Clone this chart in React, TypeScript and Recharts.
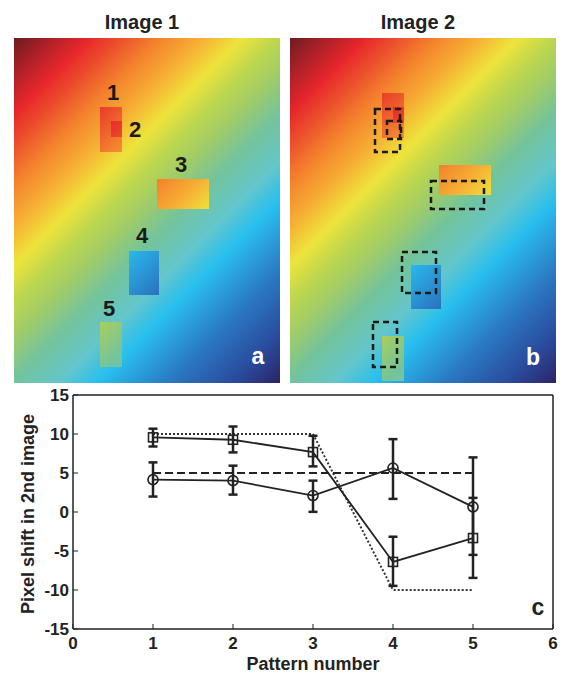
import React from 'react';
import { ComposedChart, Line, XAxis, YAxis, ErrorBar, ReferenceArea, ReferenceDot, Label } from 'recharts';

// ---- panel c: measured pixel shifts ----
const patterns = [1, 2, 3, 4, 5];
const squareShift = [9.57, 9.26, 7.68, -6.4, -3.34];
const squareErr = [[1.17, 1.11], [1.62, 1.7], [1.83, 2.09], [3.07, 3.23], [5.11, 5.15]];
const circleShift = [4.15, 4.02, 2.11, 5.64, 0.66];
const circleErr = [[2.17, 2.21], [1.79, 1.92], [2.09, 1.91], [3.96, 3.7], [6.16, 6.34]];
const trueShiftX = [5, 5, 5, 5, 5];
const trueShiftY = [10, 10, 10, -10, -10];
const xTicks = [0, 1, 2, 3, 4, 5, 6];
const yTicks = [-15, -10, -5, 0, 5, 10, 15];

// ---- panels a, b: synthetic images (image pixel units) ----
const imageW = 266;
const imageH = 345;
const patchLabels = ['1', '2', '3', '4', '5'];
// [x1, x2, y1, y2]
const patchesImage1 = [[86, 108, 69, 114], [97, 108, 83, 99], [143, 195, 141, 171], [115, 145, 213, 257], [86, 108, 284, 329]];
const patchesImage2 = [[92, 114, 55, 100], [103, 114, 69, 85], [149, 201, 127, 157], [121, 151, 227, 271], [92, 114, 298, 343]];
const foundBoxes = [[85, 110, 71, 114], [97, 111, 83, 101], [141, 194, 143, 171], [112, 146, 214, 255], [83, 107, 284, 329]];
// colour offset of each patch content along the diagonal (pixels of x+y)
const patchColorOffset = [-63, -102, -140, 105, -80];
// label centres in image 1
const labelX = [99, 121, 167, 128, 95];
const labelY = [54, 91, 126, 197, 270];

const jetOffsets = [0, 0.057, 0.123, 0.19, 0.245, 0.31, 0.373, 0.434, 0.49, 0.556, 0.638, 0.7, 0.76, 0.818, 0.917, 1];
const jetColors = ['#6b1c20', '#a82028', '#e6262a', '#ee5a2c', '#f4862e', '#f6b034', '#ede43c', '#bcd64e', '#a0cc68', '#74c49a', '#62c6cc', '#28bfee', '#2a9ad8', '#2a78c2', '#2a4c9e', '#2a2466'];

const ink = '#222';
const U = imageW + imageH;

function Jet({ id, shift }: { id: string; shift: number }) {
  return (
    <linearGradient
      id={id}
      gradientUnits="userSpaceOnUse"
      x1={0}
      y1={0}
      x2={U / 2}
      y2={U / 2}
      gradientTransform={`translate(${-shift / 2} ${-shift / 2})`}
    >
      {jetOffsets.map((o, i) => (
        <stop key={i} offset={o} stopColor={jetColors[i]} />
      ))}
    </linearGradient>
  );
}

function ImagePanel({ which }: { which: 1 | 2 }) {
  const boxes = which === 1 ? patchesImage1 : patchesImage2;
  return (
    <ComposedChart width={imageW} height={imageH} data={[]} margin={{ top: 0, right: 0, bottom: 0, left: 0 }}>
      <defs>
        <Jet id={`bg${which}`} shift={0} />
        {boxes.map((b, i) => {
          const moved = (b[0] - patchesImage1[i][0]) + (b[2] - patchesImage1[i][2]);
          return <Jet key={i} id={`p${which}-${i}`} shift={patchColorOffset[i] - moved} />;
        })}
      </defs>
      <XAxis type="number" dataKey="x" domain={[0, imageW]} hide allowDataOverflow />
      <YAxis type="number" dataKey="y" domain={[0, imageH]} reversed hide allowDataOverflow />
      <ReferenceArea x1={0} x2={imageW} y1={0} y2={imageH} fill={`url(#bg${which})`} fillOpacity={1} stroke="none" ifOverflow="visible" />
      {boxes.map((b, i) => (
        <ReferenceArea key={`p${i}`} x1={b[0]} x2={b[1]} y1={b[2]} y2={b[3]} fill={`url(#p${which}-${i})`} fillOpacity={1} stroke="none" ifOverflow="visible" />
      ))}
      {which === 2 &&
        foundBoxes.map((b, i) => (
          <ReferenceArea key={`f${i}`} x1={b[0]} x2={b[1]} y1={b[2]} y2={b[3]} fill="none" fillOpacity={0} stroke="#1a1a1a" strokeWidth={2.5} strokeDasharray="6 4" ifOverflow="visible" />
        ))}
      {which === 1 &&
        patchLabels.map((t, i) => (
          <ReferenceDot key={`l${i}`} x={labelX[i]} y={labelY[i]} r={0.1} fill="none" stroke="none" ifOverflow="visible"
            label={{ value: t, position: 'center', fill: '#1a1a1a', fontSize: 22, fontWeight: 700 }} />
        ))}
      <ReferenceDot x={which === 1 ? 244 : 243} y={which === 1 ? 318 : 319} r={0.1} fill="none" stroke="none" ifOverflow="visible"
        label={{ value: which === 1 ? 'a' : 'b', position: 'center', fill: '#fff', fontSize: 23, fontWeight: 700 }} />
    </ComposedChart>
  );
}

const chartData = patterns.map((p, i) => ({
  pattern: p,
  sq: squareShift[i],
  sqErr: squareErr[i],
  circ: circleShift[i],
  circErr: circleErr[i],
  tx: trueShiftX[i],
  ty: trueShiftY[i],
}));

const squareDot = (props: any) => {
  const { cx, cy, index } = props;
  return <rect key={`sq-${index}`} x={cx - 4.5} y={cy - 4.5} width={9} height={9} fill="none" stroke={ink} strokeWidth={1.6} />;
};

function ShiftChart() {
  const axisLine = { stroke: ink, strokeWidth: 1.5 };
  const tickStyle = { fill: ink, fontSize: 17, fontWeight: 700 };
  return (
    <ComposedChart width={561} height={290} data={chartData} margin={{ top: 9, right: 7, bottom: 1, left: 0 }}>
      <XAxis xAxisId="b" type="number" dataKey="pattern" domain={[0, 6]} ticks={xTicks} interval={0} height={45}
        tickSize={-5} tickMargin={13} axisLine={axisLine} tickLine={{ stroke: ink }} tick={tickStyle}>
        <Label value="Pattern number" position="insideBottom" offset={4} fill={ink} fontSize={18} fontWeight={700} />
      </XAxis>
      <XAxis xAxisId="t" orientation="top" type="number" dataKey="pattern" domain={[0, 6]} ticks={xTicks} interval={0} height={1}
        tickSize={-5} axisLine={axisLine} tickLine={{ stroke: ink }} tick={false} />
      <YAxis yAxisId="l" type="number" domain={[-15, 15]} ticks={yTicks} interval={0} width={73}
        tickSize={-5} tickMargin={9} axisLine={axisLine} tickLine={{ stroke: ink }} tick={tickStyle}>
        <Label
          content={(p: any) => {
            const vb = p.viewBox || { y: 10, height: 234 };
            const cy = vb.y + vb.height / 2 + 2;
            return (
              <text x={34} y={cy} transform={`rotate(-90 34 ${cy})`} textAnchor="middle" fill={ink} fontSize={18} fontWeight={700}>
                Pixel shift in 2nd image
              </text>
            );
          }}
        />
      </YAxis>
      <YAxis yAxisId="r" orientation="right" type="number" domain={[-15, 15]} ticks={yTicks} interval={0} width={1}
        tickSize={-5} axisLine={axisLine} tickLine={{ stroke: ink }} tick={false} />

      <Line xAxisId="b" yAxisId="l" dataKey="ty" stroke="#333" strokeWidth={2} strokeDasharray="2 2" dot={false} activeDot={false} isAnimationActive={false} />
      <Line xAxisId="b" yAxisId="l" dataKey="tx" stroke={ink} strokeWidth={2} strokeDasharray="8 4" dot={false} activeDot={false} isAnimationActive={false} />
      <Line xAxisId="b" yAxisId="l" dataKey="sq" stroke={ink} strokeWidth={1.8} dot={squareDot} activeDot={false} isAnimationActive={false}>
        <ErrorBar dataKey="sqErr" width={4.5} strokeWidth={2.5} stroke={ink} direction="y" isAnimationActive={false} />
      </Line>
      <Line xAxisId="b" yAxisId="l" dataKey="circ" stroke={ink} strokeWidth={1.8} dot={{ r: 5, fill: 'none', stroke: ink, strokeWidth: 1.6 }} activeDot={false} isAnimationActive={false}>
        <ErrorBar dataKey="circErr" width={4.5} strokeWidth={2.5} stroke={ink} direction="y" isAnimationActive={false} />
      </Line>
    </ComposedChart>
  );
}

export default function App() {
  const title: React.CSSProperties = { position: 'absolute', top: 12, width: 160, textAlign: 'center', fontSize: 20, lineHeight: '20px', fontWeight: 700, color: ink };
  return (
    <div style={{ position: 'absolute', left: 0, top: 0, width: 561, height: 675, background: '#fff', fontFamily: "'Liberation Sans', Arial, Helvetica, sans-serif" }}>
      <div style={{ ...title, left: 142 - 80 }}>Image 1</div>
      <div style={{ ...title, left: 418 - 80 }}>Image 2</div>
      <div style={{ position: 'absolute', left: 14, top: 38 }}>
        <ImagePanel which={1} />
      </div>
      <div style={{ position: 'absolute', left: 290, top: 38 }}>
        <ImagePanel which={2} />
      </div>
      <div style={{ position: 'absolute', left: 0, top: 385 }}>
        <ShiftChart />
      </div>
      <div style={{ position: 'absolute', left: 518, top: 596, width: 40, textAlign: 'center', fontSize: 23, lineHeight: '23px', fontWeight: 700, color: ink }}>c</div>
    </div>
  );
}
